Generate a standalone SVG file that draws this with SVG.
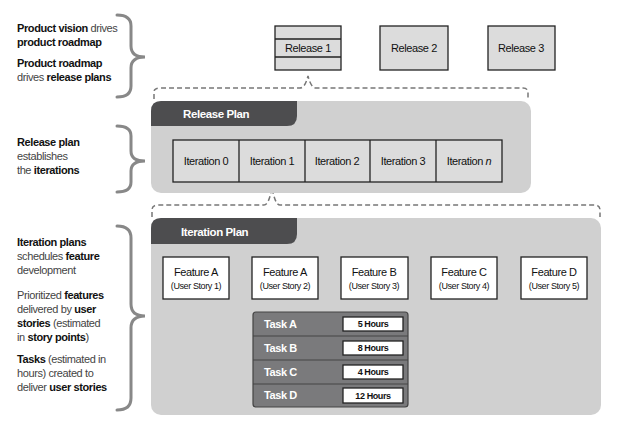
<svg xmlns="http://www.w3.org/2000/svg" width="618" height="429" viewBox="0 0 618 429">
<style>
text{font-family:"Liberation Sans Narrow","Liberation Sans",Arial,sans-serif;letter-spacing:-0.4px}
.l{font-size:11px;fill:#444}
.b{font-weight:bold;fill:#111}
.box{fill:#dcdcdc;stroke:#222;stroke-width:1.3}
.wbox{fill:#fff;stroke:#222;stroke-width:1.3}
.c{font-size:11px;text-anchor:middle;fill:#111}
.s{font-size:9px;text-anchor:middle;fill:#111}
.brace{fill:none;stroke:#888;stroke-width:3;stroke-linecap:round}
.dash{fill:none;stroke:#777;stroke-width:1.5;stroke-dasharray:5 3}
.hd{font-size:11.5px;font-weight:bold;fill:#fff}
.tk{font-size:11px;font-weight:bold;fill:#fff}
.hr{font-size:9px;font-weight:bold;text-anchor:middle;fill:#111}
</style>
<defs><marker id="ah" markerWidth="8" markerHeight="8" refX="7" refY="4" orient="auto" markerUnits="userSpaceOnUse"><path d="M0,0 L8,4 L0,8z" fill="#777"/></marker></defs>
<g id="labels">
<text class="l" x="17" y="32"><tspan class="b">Product vision</tspan> drives</text>
<text class="l" x="17" y="46"><tspan class="b">product roadmap</tspan></text>
<text class="l" x="17" y="67"><tspan class="b">Product roadmap</tspan></text>
<text class="l" x="17" y="81">drives <tspan class="b">release plans</tspan></text>
<text class="l" x="17" y="146"><tspan class="b">Release plan</tspan></text>
<text class="l" x="17" y="160">establishes</text>
<text class="l" x="17" y="174">the <tspan class="b">iterations</tspan></text>
<text class="l" x="17" y="246"><tspan class="b">Iteration plans</tspan></text>
<text class="l" x="17" y="260">schedules <tspan class="b">feature</tspan></text>
<text class="l" x="17" y="274">development</text>
<text class="l" x="17" y="299">Prioritized <tspan class="b">features</tspan></text>
<text class="l" x="17" y="313">delivered by <tspan class="b">user</tspan></text>
<text class="l" x="17" y="327"><tspan class="b">stories</tspan> (estimated</text>
<text class="l" x="17" y="341">in <tspan class="b">story points</tspan>)</text>
<text class="l" x="17" y="363"><tspan class="b">Tasks</tspan> (estimated in</text>
<text class="l" x="17" y="377">hours) created to</text>
<text class="l" x="17" y="391">deliver <tspan class="b">user stories</tspan></text>
<path class="brace" d="M117,15 Q131,15 131,26 L131,46 Q131,57 145,57 Q131,57 131,68 L131,86 Q131,97 117,97"/>
<path class="brace" d="M117,126 Q131,126 131,136 L131,151 Q131,161 145,161 Q131,161 131,171 L131,182 Q131,192 117,192"/>
<path class="brace" d="M117,226 Q131,226 131,238 L131,304 Q131,316 145,316 Q131,316 131,328 L131,398 Q131,410 117,410"/>
</g>
<g id="releases">
<rect class="box" x="275" y="26" width="66" height="44"/>
<line x1="275" y1="39" x2="341" y2="39" stroke="#222" stroke-width="1.3"/>
<line x1="275" y1="57" x2="341" y2="57" stroke="#222" stroke-width="1.3"/>
<text class="c" x="308" y="52">Release 1</text>
<rect class="box" x="380" y="26" width="68" height="44"/>
<text class="c" x="414" y="52">Release 2</text>
<rect class="box" x="488" y="26" width="67" height="44"/>
<text class="c" x="521" y="52">Release 3</text>
</g>
<g id="connectors">
<path class="dash" d="M154,99 L154,92 Q154,88 160,88 L300,88 Q305,88 308,76 Q311,88 316,88 L523,88 Q528,88 528,93 L528,99"/>
<path class="dash" d="M152,217 L152,210 Q152,205 158,205 L264,205 Q269,205 272,187 Q275,205 280,205 L594,205 Q600,205 600,210 L600,217"/>
<path d="M199,299 L199,315 Q199,324 208,324 L252,324" fill="none" stroke="#777" stroke-width="3" marker-end="url(#ah)"/>
</g>
<g id="release-plan">
<rect x="151" y="101" width="380" height="92" rx="10" fill="#d0d0d0"/>
<path d="M151,126 L151,111 Q151,101 161,101 L297,101 L297,116 Q297,126 287,126 Z" fill="#4d4d4f"/>
<text class="hd" x="183" y="118">Release Plan</text>
<rect class="box" x="173" y="140" width="329" height="42"/>
<line x1="239" y1="140" x2="239" y2="182" stroke="#222" stroke-width="1.3"/>
<line x1="305" y1="140" x2="305" y2="182" stroke="#222" stroke-width="1.3"/>
<line x1="370" y1="140" x2="370" y2="182" stroke="#222" stroke-width="1.3"/>
<line x1="436" y1="140" x2="436" y2="182" stroke="#222" stroke-width="1.3"/>
<text class="c" x="206" y="165">Iteration 0</text>
<text class="c" x="272" y="165">Iteration 1</text>
<text class="c" x="337" y="165">Iteration 2</text>
<text class="c" x="403" y="165">Iteration 3</text>
<text class="c" x="469" y="165">Iteration <tspan font-style="italic">n</tspan></text>
</g>
<g id="iteration-plan">
<rect x="151" y="218" width="450" height="197" rx="10" fill="#d0d0d0"/>
<path d="M151,244 L151,228 Q151,218 161,218 L297,218 L297,234 Q297,244 287,244 Z" fill="#4d4d4f"/>
<text class="hd" x="181" y="236">Iteration Plan</text>
</g>
<g id="features">
<rect class="wbox" x="163" y="257" width="66" height="42"/><text class="c" x="196" y="276">Feature A</text><text class="s" x="196" y="289">(User Story 1)</text>
<rect class="wbox" x="252" y="257" width="66" height="42"/><text class="c" x="285" y="276">Feature A</text><text class="s" x="285" y="289">(User Story 2)</text>
<rect class="wbox" x="341" y="257" width="67" height="42"/><text class="c" x="374" y="276">Feature B</text><text class="s" x="374" y="289">(User Story 3)</text>
<rect class="wbox" x="431" y="257" width="66" height="42"/><text class="c" x="464" y="276">Feature C</text><text class="s" x="464" y="289">(User Story 4)</text>
<rect class="wbox" x="521" y="257" width="66" height="42"/><text class="c" x="554" y="276">Feature D</text><text class="s" x="554" y="289">(User Story 5)</text>
</g>
<g id="tasks">
<rect x="253" y="312" width="155" height="95" rx="3" fill="#7a7a7c" stroke="#444" stroke-width="1.2"/>
<line x1="253" y1="336" x2="408" y2="336" stroke="#444" stroke-width="1.2"/>
<line x1="253" y1="360" x2="408" y2="360" stroke="#444" stroke-width="1.2"/>
<line x1="253" y1="384" x2="408" y2="384" stroke="#444" stroke-width="1.2"/>
<text class="tk" x="264" y="328">Task A</text>
<text class="tk" x="264" y="352">Task B</text>
<text class="tk" x="264" y="376">Task C</text>
<text class="tk" x="264" y="399">Task D</text>
<rect class="wbox" x="343" y="317" width="60" height="14"/><text class="hr" x="373" y="327">5 Hours</text>
<rect class="wbox" x="343" y="341" width="60" height="14"/><text class="hr" x="373" y="351">8 Hours</text>
<rect class="wbox" x="343" y="365" width="60" height="14"/><text class="hr" x="373" y="375">4 Hours</text>
<rect class="wbox" x="343" y="388" width="60" height="15"/><text class="hr" x="373" y="399">12 Hours</text>
</g>
</svg>
